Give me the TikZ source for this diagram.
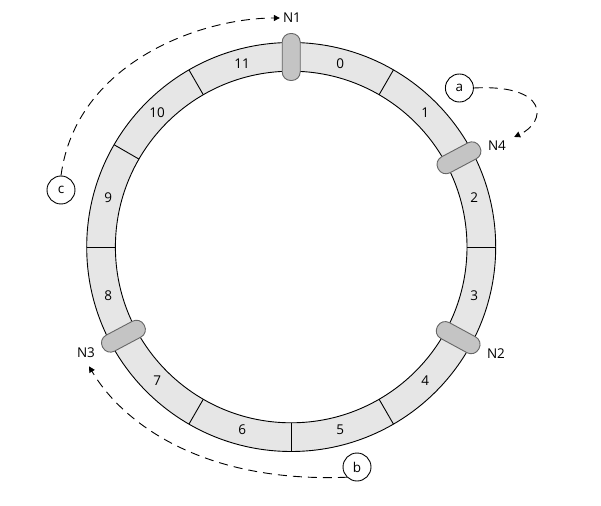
\documentclass[tikz,border=0pt]{standalone}
\usepackage{fontspec}
\setmainfont{Open Sans}
\usetikzlibrary{arrows.meta}
\definecolor{ringfill}{HTML}{E6E6E6}
\definecolor{markfill}{HTML}{C4C4C4}
\definecolor{markline}{HTML}{666666}
\tikzset{
  marker/.style={draw=markline, fill=markfill, line width=0.9pt, rounded corners=8.5pt,
    minimum width=47pt, minimum height=18pt, inner sep=0pt},
  seglabel/.style={font=\fontsize{13.5}{16}\selectfont, inner sep=0pt},
  nlabel/.style={font=\fontsize{13.5}{16}\selectfont, inner sep=3pt},
  keycirc/.style={draw, circle, line width=0.9pt, minimum size=28pt, inner sep=0pt, font=\fontsize{13.5}{16}\selectfont},
  dashlink/.style={dash pattern=on 9pt off 6pt, line width=0.9pt, -{Triangle[length=6pt,width=6pt]}}
}
\begin{document}
\begin{tikzpicture}[x=1pt,y=1pt]
\useasboundingbox (-291.2,-258) rectangle (309.8,247);
% ring
\fill[ringfill, even odd rule] (0,0) circle (204.5) (0,0) circle (175.8);
\draw[line width=0.9pt] (0,0) circle (204.5);
\draw[line width=0.9pt] (0,0) circle (175.8);
\foreach \a in {0,30,...,330} {
  \draw[line width=0.9pt] (\a:175.8) -- (\a:204.5);
}
\foreach \k in {0,...,11} {
  \node[seglabel] (s\k) at ({75-30*\k}:189.5) {\k};
}
% markers
\node[marker, rotate=90] (m1) at (90:190) {};
\node[marker, rotate=28] (m4) at (28:190) {};
\node[marker, rotate=-28.5] (m2) at (-28.5:190) {};
\node[marker, rotate=208] (m3) at (208:190) {};
% labels
\node[nlabel] (N1) at (0.8,229) {N1};
\node[nlabel] (N4) at (205.8,101) {N4};
\node[nlabel] (N2) at (204.8,-107) {N2};
\node[nlabel] (N3) at (-205.2,-106) {N3};
% key circles
\node[keycirc] (a) at (168.2,159) {a};
\node[keycirc] (b) at (65.8,-220) {b};
\node[keycirc] (c) at (-230.2,57) {c};
% dashed links
\draw[dashlink] (a.east) .. controls (258,163) and (256,125) .. ([xshift=5pt,yshift=1pt]N4.north east);
\draw[dashlink] (c.north) .. controls (-215,185) and (-90,229) .. (N1.west);
\draw[dashlink, shorten >=6pt] (b.south west) .. controls (-91.5,-236) and (-170,-174) .. (N3.south);
\end{tikzpicture}
\end{document}
